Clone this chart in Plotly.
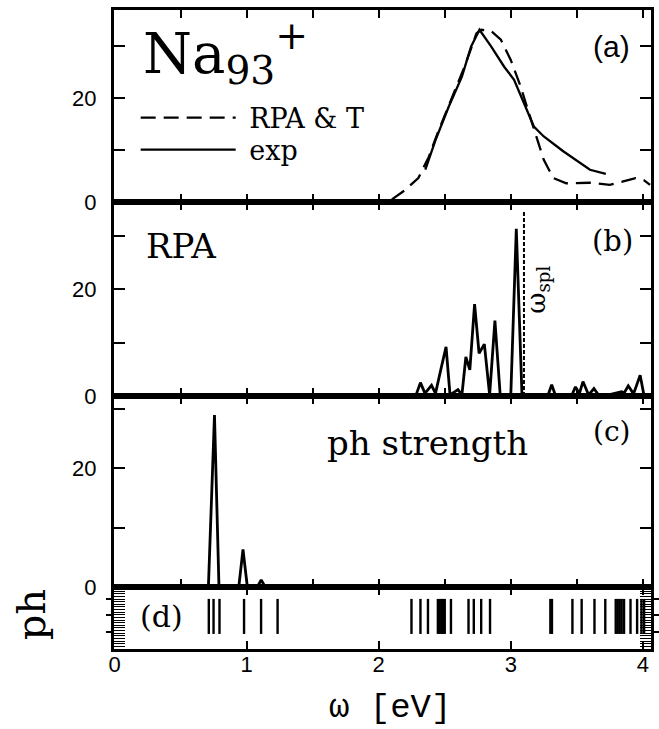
import plotly.graph_objects as go

# ---------------- data ----------------
x_tick_vals = [0, 1, 2, 3, 4]
x_tick_text = ["0", "1", "2", "3", "4"]
x_minor_vals = [0, 0.5, 1, 1.5, 2, 2.5, 3, 3.5, 4]
y_tick_vals = [0, 10, 20, 30]
y_tick_text = ["0", " ", "20", " "]

# panel (a): RPA & T (dashed) and experiment (solid)
rpat_w = [2.10, 2.20, 2.30, 2.38, 2.45, 2.55, 2.65, 2.74, 2.776, 2.85, 2.925, 3.00, 3.075,
          3.137, 3.20, 3.25, 3.323, 3.42, 3.60, 3.75, 3.845, 3.945, 4.007, 4.055]
rpat_v = [0.5, 2.3, 4.6, 8.7, 13.5, 19.6, 26.0, 32.4, 33.1, 32.9, 31.2, 27.3, 22.2,
          17.1, 11.9, 8.1, 4.6, 3.6, 3.7, 3.3, 3.9, 4.6, 4.2, 3.3]

exp_w = [2.353, 2.43, 2.53, 2.63, 2.70, 2.763, 2.851, 2.95, 3.025, 3.10, 3.175, 3.25, 3.40, 3.60, 3.72]
exp_v = [6.2, 11.9, 18.3, 24.1, 29.9, 33.1, 29.9, 26.0, 23.5, 19.0, 14.5, 12.6, 9.7, 6.2, 5.4]

# panel (b): RPA spectrum
rpa_w = [0.00, 2.28, 2.316, 2.35, 2.40, 2.43, 2.47, 2.51, 2.54, 2.60, 2.63, 2.66, 2.69, 2.726,
         2.76, 2.80, 2.84, 2.88, 2.92, 3.00, 3.042, 3.085, 3.28, 3.31, 3.34, 3.46, 3.49, 3.52,
         3.547, 3.59, 3.63, 3.67, 3.74, 3.80, 3.84, 3.86, 3.89, 3.93, 3.98, 4.01, 4.06]
rpa_v = [0.0, 0.0, 2.5, 0.5, 2.0, 0.5, 4.9, 9.2, 0.2, 1.2, 0.2, 7.3, 4.9, 17.2,
         8.0, 9.7, 0.2, 14.1, 0.2, 0.0, 31.3, 0.2, 0.0, 2.1, 0.0, 0.0, 1.7, 0.5,
         2.7, 0.2, 1.4, 0.0, 0.2, 0.5, 0.8, 0.6, 1.9, 0.4, 3.9, 0.0, 0.0]
w_spl = 3.10
w_spl_top = 34.8

# panel (c): ph strength
ph_w = [0.00, 0.71, 0.756, 0.79, 0.94, 0.972, 1.005, 1.08, 1.11, 1.14, 4.06]
ph_v = [0.0, 0.0, 28.9, 0.0, 0.0, 6.3, 0.0, 0.0, 1.2, 0.0, 0.0]

# panel (d): ph energies (stick spectrum)
ph_lines = [0.713, 0.749, 0.794, 0.980, 1.109, 1.234,
            2.248, 2.316, 2.373, 2.448, 2.462, 2.475, 2.488, 2.500, 2.547,
            2.680, 2.720, 2.776, 2.843,
            3.300, 3.312, 3.467, 3.537, 3.634, 3.716,
            3.795, 3.810, 3.825, 3.840, 3.858, 3.907, 3.957, 3.990, 4.010]

# ---------------- figure ----------------
L, R, T, B = 114, 0, 10, 80
W, H = 659, 729
PW, PH = W - L - R, H - T - B


def xp(px):
    return (px - L) / PW


def yp(py):
    return (H - B - py) / PH


SERIF = "DejaVu Serif"
SANS = "Liberation Sans"
MONO = "Liberation Mono"
NB = "\u00a0"

fig = go.Figure()

fig.add_trace(go.Scatter(x=rpat_w, y=rpat_v, mode="lines", name=NB + "RPA & T", legend="legend",
                         line=dict(color="black", width=2.3, dash="15px,8px"),
                         xaxis="x", yaxis="y"))
fig.add_trace(go.Scatter(x=exp_w, y=exp_v, mode="lines", name=NB + "exp", legend="legend2",
                         line=dict(color="black", width=2.3),
                         xaxis="x", yaxis="y"))
fig.add_trace(go.Scatter(x=rpa_w, y=rpa_v, mode="lines", showlegend=False,
                         line=dict(color="black", width=2.8),
                         xaxis="x2", yaxis="y2"))
fig.add_trace(go.Scatter(x=ph_w, y=ph_v, mode="lines", showlegend=False,
                         line=dict(color="black", width=2.8),
                         xaxis="x3", yaxis="y3"))

stick_x, stick_y = [], []
for p in ph_lines:
    stick_x += [p, p, None]
    stick_y += [0, 1, None]
fig.add_trace(go.Scatter(x=stick_x, y=stick_y, mode="lines", showlegend=False,
                         line=dict(color="black", width=2.4),
                         xaxis="x4", yaxis="y4"))

xr = [-0.005, (W - L) / 134.0 - 0.005]

common_x = dict(range=xr, showgrid=False, zeroline=False, showline=True, linewidth=3,
                linecolor="black", mirror="ticks", ticks="inside", ticklen=8, tickwidth=2,
                tickcolor="black", tickmode="array", tickvals=x_minor_vals, showticklabels=False)
common_y = dict(showgrid=False, zeroline=False, showline=True, linewidth=3, linecolor="black",
                mirror="ticks", ticks="inside", ticklen=11, tickwidth=2, tickcolor="black",
                tickmode="array", tickvals=y_tick_vals, ticktext=y_tick_text,
                tickfont=dict(family=SANS, size=22, color="black"), ticklabelstandoff=10)

d_a = [yp(202), 1.0]
d_b = [yp(396), yp(202)]
d_c = [yp(587), yp(396)]
d_d = [0.0, yp(587)]

leg_common = dict(xanchor="left", yanchor="middle", bgcolor="rgba(0,0,0,0)", borderwidth=0,
                  itemwidth=95, font=dict(family=SERIF, size=27, color="black"))

fig.update_layout(
    width=W, height=H, margin=dict(l=L, r=R, t=T, b=B),
    paper_bgcolor="white", plot_bgcolor="white",
    xaxis=dict(common_x, anchor="y", domain=[0, 1]),
    xaxis2=dict(common_x, anchor="y2", domain=[0, 1], matches="x"),
    xaxis3=dict(common_x, anchor="y3", domain=[0, 1], matches="x"),
    xaxis4=dict(common_x, anchor="y4", domain=[0, 1], matches="x",
                tickvals=x_tick_vals, ticktext=x_tick_text, showticklabels=True,
                tickfont=dict(family=SANS, size=22, color="black"), ticklabelstandoff=-6),
    yaxis=dict(common_y, anchor="x", domain=d_a, range=[0, 36.9]),
    yaxis2=dict(common_y, anchor="x2", domain=d_b, range=[0, 36.3]),
    yaxis3=dict(common_y, anchor="x3", domain=d_c, range=[0, 32.1]),
    yaxis4=dict(showgrid=False, zeroline=False, showline=True, linewidth=3, linecolor="black",
                mirror="ticks", ticks="outside", ticklen=5, tickwidth=2, tickcolor="black",
                tickmode="array", tickvals=[0.06, 0.54, 1.0], showticklabels=False,
                anchor="x4", domain=d_d, range=[-0.43, 1.34],
                minor=dict(ticks="inside", ticklen=11, tickwidth=1.3, tickcolor="black",
                           tickmode="linear", tick0=-0.43, dtick=0.075, showgrid=False)),
    legend=dict(leg_common, x=xp(136), y=yp(118)),
    legend2=dict(leg_common, x=xp(136), y=yp(150)),
    showlegend=True,
)

fig.add_shape(type="line", xref="x2", yref="y2", x0=w_spl, x1=w_spl, y0=0, y1=w_spl_top,
              line=dict(color="black", width=2, dash="4px,2px"))

ann = []


def add(text, px, py, size, family=SERIF, xanchor="center", yanchor="middle", angle=0):
    ann.append(dict(text=text, x=xp(px), y=yp(py), xref="paper", yref="paper",
                    xanchor=xanchor, yanchor=yanchor, showarrow=False, textangle=angle,
                    font=dict(family=family, size=size, color="black")))


add("Na<sub>93</sub><sup>+</sup>", 141, 53, 56, xanchor="left")
add("(a)", 619, 47, 30, family=SANS)
add("RPA", 144, 246, 34, xanchor="left")
add("(b)", 620, 241, 29)
add("ω<sub>spl</sub>", 543, 290, 26, angle=-90)
add("ph strength", 328, 443, 34, xanchor="left")
add("(c)", 619, 431, 28)
add("(d)", 162, 616, 30)
add("ph", 30, 615, 40, angle=-90)
add("ω [eV]", 394, 708, 34, family=MONO)

fig.update_layout(annotations=ann)

fig.write_html("out.html")
